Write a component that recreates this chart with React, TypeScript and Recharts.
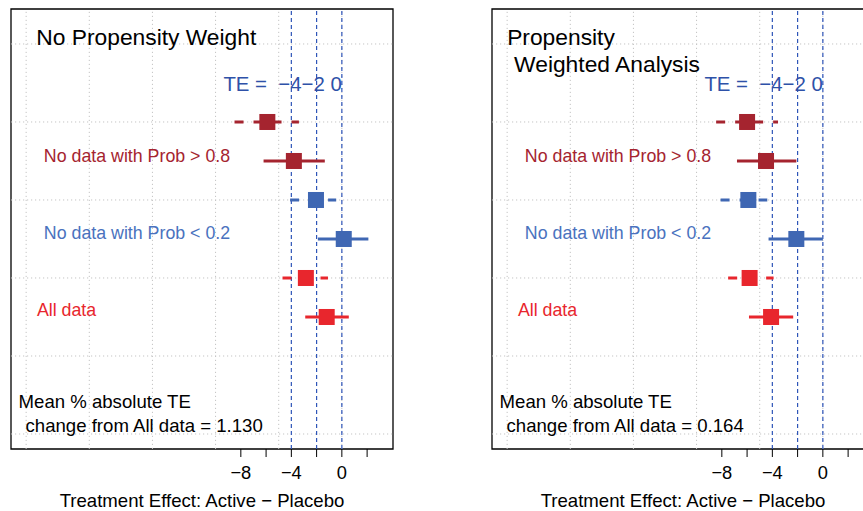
import React from 'react';
import {
  ComposedChart, XAxis, YAxis, Scatter, ReferenceLine, ReferenceArea,
} from 'recharts';

// rows from top to bottom: >0.8 dashed, >0.8, <0.2 dashed, <0.2, all dashed, all
const rowY = [8, 7, 6, 5, 4, 3];

const noWeightTE = [-5.9, -3.8, -2.05, 0.15, -2.85, -1.2];
const noWeightLo = [-8.5, -6.2, -4.1, -1.9, -4.7, -2.9];
const noWeightHi = [-3.4, -1.35, -0.45, 2.1, -1.1, 0.55];

const weightedTE = [-6.0, -4.5, -5.9, -2.1, -5.8, -4.1];
const weightedLo = [-8.45, -6.8, -8.1, -4.3, -7.5, -5.85];
const weightedHi = [-3.55, -2.1, -4.4, 0.0, -3.9, -2.35];

const xTicks = [-8, -6, -4, -2, 0, 2];
const xTickLabels = [-8, -4, 0];
const teLines = [-4, -2, 0];
const gridX = [-25, -20, -15, -10, -5, 0];
const gridY = [0, 2, 4, 6, 8, 10];

const XMIN = -26.2;
const XMAX = 4.05;
const YMIN = -0.385;
const YMAX = 10.897;

const DARK_RED = '#A5242F';
const BLUE = '#3F67B3';
const RED = '#E8262D';
const rowColors = [DARK_RED, DARK_RED, BLUE, BLUE, RED, RED];
const rowDashed = [true, false, true, false, true, false];

const FONT = '"Liberation Sans", Arial, Helvetica, sans-serif';

type Note = { x: number; y: number; text: string; color: string; size: number; anchor?: string };

const sharedNotes = (meanValue: string): Note[] => [
  { x: 0, y: 8.98, text: 'TE =  \u22124\u22122 0', color: '#2E51A8', size: 20.4, anchor: 'end' },
  { x: -23.6, y: 7.13, text: 'No data with Prob > 0.8', color: DARK_RED, size: 17.8 },
  { x: -23.6, y: 5.15, text: 'No data with Prob < 0.2', color: '#4A72BE', size: 17.8 },
  { x: -24.15, y: 3.18, text: 'All data', color: RED, size: 17.8 },
  { x: -25.6, y: 0.83, text: 'Mean % absolute TE', color: '#000', size: 18.6 },
  { x: -25.05, y: 0.23, text: 'change from All data = ' + meanValue, color: '#000', size: 18.6 },
];

const leftNotes: Note[] = [
  { x: -24.2, y: 10.18, text: 'No Propensity Weight', color: '#000', size: 22.8 },
  ...sharedNotes('1.130'),
];

const rightNotes: Note[] = [
  { x: -25.0, y: 10.18, text: 'Propensity', color: '#000', size: 22.8 },
  { x: -24.45, y: 9.48, text: 'Weighted Analysis', color: '#000', size: 22.8 },
  ...sharedNotes('0.164'),
];

const minus = (v: number) => (v < 0 ? '\u2212' + Math.abs(v) : String(v));

const NoteShape = (props: any) => {
  const { cx, cy, payload } = props;
  return (
    <text
      x={cx}
      y={cy}
      fill={payload.color}
      fontSize={payload.size}
      textAnchor={payload.anchor || 'start'}
      dominantBaseline="central"
      style={{ whiteSpace: 'pre', fontFamily: FONT }}
    >
      {payload.text}
    </text>
  );
};

const SquareShape = (props: any) => {
  const { cx, cy, payload } = props;
  return <rect x={cx - 8} y={cy - 8} width={16} height={16} fill={payload.color} />;
};

interface PanelProps {
  te: number[];
  lo: number[];
  hi: number[];
  notes: Note[];
}

const Panel: React.FC<PanelProps> = ({ te, lo, hi, notes }) => {
  const points = te.map((v, i) => ({ x: v, y: rowY[i], color: rowColors[i] }));

  return (
    <ComposedChart
      width={400}
      height={511}
      margin={{ top: 9, right: 7, left: 11, bottom: 0 }}
    >
      <XAxis
        type="number"
        dataKey="x"
        domain={[XMIN, XMAX]}
        allowDataOverflow
        ticks={xTicks}
        tickFormatter={(v: number) => (xTickLabels.includes(v) ? minus(v) : '')}
        axisLine={false}
        tickLine={{ stroke: '#000', strokeWidth: 1 }}
        tickSize={8}
        tickMargin={9}
        height={62}
        tick={{ fill: '#000', fontSize: 18.3, fontFamily: FONT }}
        label={{
          value: 'Treatment Effect: Active \u2212 Placebo',
          position: 'insideBottom',
          offset: 4,
          fill: '#000',
          fontSize: 18.6,
          fontFamily: FONT,
        }}
      />
      <YAxis type="number" dataKey="y" domain={[YMIN, YMAX]} allowDataOverflow hide />

      {gridX.map(g => (
        <ReferenceLine key={'gx' + g} x={g} stroke="#c4c4c4" strokeDasharray="1.2 2.8" />
      ))}
      {gridY.map(g => (
        <ReferenceLine key={'gy' + g} y={g} stroke="#c4c4c4" strokeDasharray="1.2 2.8" />
      ))}

      {teLines.map(t => (
        <ReferenceLine key={'te' + t} x={t} stroke="#2E55B8" strokeWidth={1.2} strokeDasharray="4 3" />
      ))}

      {rowY.map((y, i) => (
        <ReferenceLine
          key={'ci' + i}
          segment={[{ x: lo[i], y }, { x: hi[i], y }]}
          stroke={rowColors[i]}
          strokeWidth={3}
          strokeDasharray={rowDashed[i] ? '9 10' : undefined}
        />
      ))}

      <Scatter data={points} shape={<SquareShape />} isAnimationActive={false} />
      <Scatter data={notes} shape={<NoteShape />} isAnimationActive={false} />

      <ReferenceArea
        x1={XMIN}
        x2={XMAX}
        y1={YMIN}
        y2={YMAX}
        fill="none"
        fillOpacity={0}
        stroke="#000"
        strokeWidth={1.3}
      />
    </ComposedChart>
  );
};

export default function App() {
  return (
    <div
      style={{
        position: 'fixed',
        top: 0,
        left: 0,
        width: 863,
        height: 511,
        overflow: 'hidden',
        background: '#fff',
        fontFamily: FONT,
      }}
    >
      <div style={{ position: 'absolute', left: 0, top: 0 }}>
        <Panel te={noWeightTE} lo={noWeightLo} hi={noWeightHi} notes={leftNotes} />
      </div>
      <div style={{ position: 'absolute', left: 481, top: 0 }}>
        <Panel te={weightedTE} lo={weightedLo} hi={weightedHi} notes={rightNotes} />
      </div>
    </div>
  );
}
